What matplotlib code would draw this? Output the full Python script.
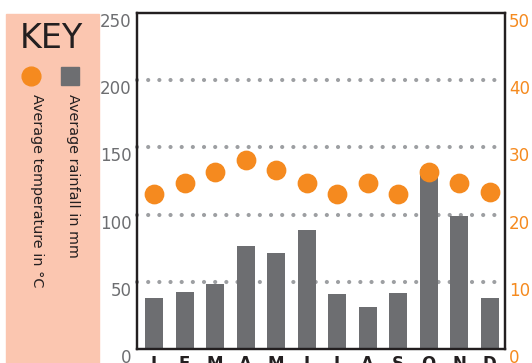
import matplotlib
matplotlib.use("Agg")
import matplotlib.pyplot as plt
import matplotlib.transforms as mtransforms
from matplotlib.patches import Rectangle

plt.rcParams['font.family'] = ['DejaVu Sans']

months = ['J', 'F', 'M', 'A', 'M', 'J', 'J', 'A', 'S', 'O', 'N', 'D']
rainfall = [38, 42.5, 48.5, 76.5, 71.5, 88.5, 41, 31.5, 41.5, 134, 99, 38]
temperature = [23.0, 24.75, 26.4, 28.1, 26.7, 24.75, 23.1, 24.75, 23.1, 26.4, 24.75, 23.3]
rain_ticks = [0, 50, 100, 150, 200, 250]
temp_ticks = [0, 10, 20, 30, 40, 50]
grid_levels = [50, 100, 150, 200]

GREY = '#6d6e71'
ORANGE = '#f58a1f'
INK = '#231f20'
SALMON = '#fbc6b0'
DOTS = '#9d9fa2'

fig = plt.figure(figsize=(5.32, 3.63), dpi=100)
ax = fig.add_axes([0.2575, 0.0386, 0.6915, 0.9256])
x = range(len(months))

# dotted guide lines behind the bars
for g in grid_levels:
    ax.axhline(g, color=DOTS, lw=3, linestyle=(0, (0.01, 2.67)),
               dash_capstyle='round', zorder=1, clip_on=False)

ax.bar(x, rainfall, width=0.59, color=GREY, zorder=2)
ax.set_xlim(-0.56, 11.5)
ax.set_ylim(0, 250)
ax.set_yticks(rain_ticks)
ax.set_xticks(list(x))
ax.set_xticklabels(months, fontweight='bold', fontsize=12, color=INK)
ax.tick_params(axis='x', length=0, pad=4)
ax.tick_params(axis='y', length=0, pad=4, labelsize=12, labelcolor=GREY)

ax2 = ax.twinx()
ax2.scatter(x, temperature, s=175, color=ORANGE, zorder=5, clip_on=False)
ax2.set_ylim(0, 50)
ax2.set_yticks(temp_ticks)
ax2.tick_params(axis='y', length=0, pad=3, labelsize=12, labelcolor=ORANGE)

for a in (ax, ax2):
    for sp in a.spines.values():
        sp.set_color(INK)
        sp.set_linewidth(1.6)

# nudge the value labels a little below their lines
shift = mtransforms.ScaledTranslation(0, -5 / 72, fig.dpi_scale_trans)
for lbl in ax.get_yticklabels() + ax2.get_yticklabels():
    lbl.set_transform(lbl.get_transform() + shift)

# key panel on the left
fig.patches.append(Rectangle((6 / 532, 0), 93 / 532, 349 / 363,
                             transform=fig.transFigure, color=SALMON, zorder=0))
fig.text(51 / 532, 1 - 38 / 363, 'KEY', fontsize=24, color=INK,
         ha='center', va='center')
fig.add_artist(plt.Line2D([31 / 532], [1 - 76 / 363], marker='o', markersize=13.5,
                          color=ORANGE, transform=fig.transFigure))
fig.add_artist(plt.Line2D([70 / 532], [1 - 76 / 363], marker='s', markersize=13.5,
                          color=GREY, transform=fig.transFigure))
fig.text(37 / 532, 1 - 94 / 363, 'Average temperature in °C', fontsize=10.4,
         color=INK, rotation=-90, ha='center', va='top')
fig.text(73 / 532, 1 - 94 / 363, 'Average rainfall in mm', fontsize=10.4,
         color=INK, rotation=-90, ha='center', va='top')

fig.savefig('out.png', dpi=100)
